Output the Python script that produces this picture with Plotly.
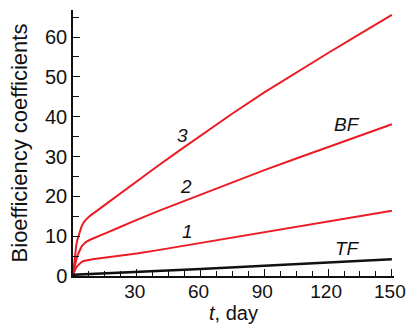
import plotly.graph_objects as go

t = [0, 0.5, 1, 1.5, 2, 3, 4, 5, 6, 8, 10, 13, 16, 20, 25, 30, 40, 50, 60, 75, 90, 105, 120, 135, 150]
curve3 = [0.3, 3.0, 5.5, 7.6, 9.0, 11.0, 12.4, 13.4, 14.1, 15.1, 15.9, 17.0, 18.2, 19.8, 21.8, 23.8, 27.7, 31.5,
          35.3, 40.8, 46.1, 51.1, 56.0, 60.8, 65.6]
curve2 = [0.3, 1.8, 2.9, 4.0, 5.0, 6.4, 7.4, 8.0, 8.5, 9.1, 9.6, 10.3, 10.9, 11.8, 13.0, 14.1, 16.3, 18.4,
          20.5, 23.6, 26.6, 29.5, 32.4, 35.3, 38.1]
curve1 = [0.3, 1.0, 1.6, 2.1, 2.5, 3.1, 3.5, 3.75, 3.9, 4.1, 4.25, 4.45, 4.65, 4.9, 5.25, 5.65, 6.5, 7.4,
          8.3, 9.7, 11.1, 12.4, 13.8, 15.1, 16.4]
t_tf = [0, 30, 60, 90, 120, 150]
tf = [0.3, 0.95, 1.75, 2.55, 3.4, 4.2]

x_ticks = [30, 60, 90, 120, 150]
x_tick_labels = ["30", "60", "90", "120", "150"]
y_ticks = [0, 10, 20, 30, 40, 50, 60]

RED = "#ec1c24"
FONT = "Liberation Sans, Arial, sans-serif"

fig = go.Figure()
for ys in (curve1, curve2, curve3):
    fig.add_trace(go.Scatter(x=t, y=ys, mode="lines", line=dict(color=RED, width=2),
                             showlegend=False, hoverinfo="skip"))
fig.add_trace(go.Scatter(x=t_tf, y=tf, mode="lines", line=dict(color="#111111", width=2.5),
                         showlegend=False, hoverinfo="skip"))

labels = [("<i>3</i>", 51.4, 35.4), ("<i>2</i>", 53.2, 22.6), ("<i>1</i>", 53.7, 11.1),
          ("<i>BF</i>", 129.1, 38.1), ("<i>TF</i>", 129.2, 7.0)]
for txt, x, y in labels:
    fig.add_annotation(x=x, y=y, text=txt, showarrow=False, font=dict(family=FONT, size=19, color="#111111"),
                       xanchor="center", yanchor="middle")

fig.update_layout(
    width=407, height=327,
    margin=dict(l=73, r=12.5, t=10, b=51),
    plot_bgcolor="white", paper_bgcolor="white",
    font=dict(family=FONT, size=20, color="#111111"),
    xaxis=dict(range=[0, 151], tickvals=x_ticks, ticktext=x_tick_labels, ticks="inside", ticklen=7,
               tickwidth=1.2, tickcolor="#111111",
               showline=True, linecolor="#111111", linewidth=1.5, showgrid=False, zeroline=False,
               minor=dict(dtick=7.5, tick0=0, ticks="inside", ticklen=5, tickwidth=1, tickcolor="#111111"),
               title=dict(text="<i>t</i>, day", font=dict(size=20), standoff=5),
               tickfont=dict(size=19), ticklabeloverflow="allow", ticklabelstandoff=-3, ticklabelshift=-2,
               automargin=False),
    yaxis=dict(range=[0, 66.8], tickvals=y_ticks, ticks="inside", ticklen=7, tickwidth=1.2, tickcolor="#111111",
               showline=True, linecolor="#111111", linewidth=1.5, showgrid=False, zeroline=False,
               minor=dict(dtick=5, tick0=0, ticks="inside", ticklen=6, tickwidth=1, tickcolor="#111111"),
               title=dict(text="Bioefficiency coefficients", font=dict(size=22), standoff=11),
               tickfont=dict(size=20), automargin=False),
)

fig.write_html("out.html")
